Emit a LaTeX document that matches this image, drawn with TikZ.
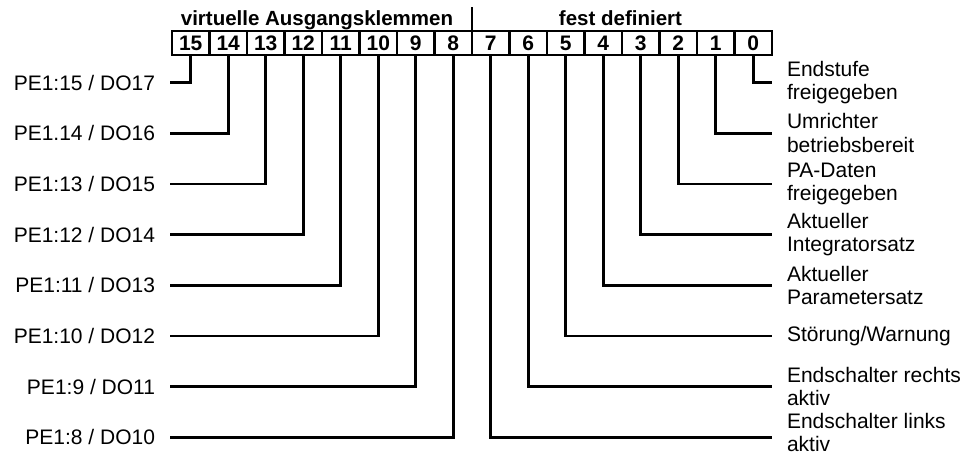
\documentclass[tikz,border=0pt]{standalone}
\usepackage{fontspec}
\setmainfont{Liberation Sans}
\begin{document}
\begin{tikzpicture}[x=1pt,y=-1pt,
  every node/.style={font=\fontsize{21}{23.5}\selectfont},
  bitbox/.style={draw, line width=2.6pt, minimum width=37.5pt, minimum height=24pt, inner sep=0pt, outer sep=0pt, font=\fontsize{21}{23.5}\selectfont\bfseries},
  lefttxt/.style={anchor=east, inner xsep=15pt, inner ysep=0pt, outer sep=0pt},
  righttxt/.style={anchor=west, inner xsep=15pt, inner ysep=0pt, outer sep=0pt, align=left},
  conn/.style={line width=2.6pt},
  head/.style={anchor=base, inner sep=0pt, font=\fontsize{20.5}{23.5}\selectfont\bfseries}]
\useasboundingbox (0,0) rectangle (972,459);
% boxes
\foreach \i in {0,...,15} {
  \node[bitbox] (b\i) at ({172+37.5*(15-\i)+18.75}, 43) {\i};
}
% header
\node[head] (hv) at (317,25) {virtuelle Ausgangsklemmen};
\node[head] (hf) at (620.5,25) {fest definiert};
\draw[conn] (b8.north east) -- ++(0,-24);
% left labels
\node[lefttxt] (l15) at (170,82.5) {PE1:15 / DO17};
\node[lefttxt] (l14) at (170,133.2) {PE1.14 / DO16};
\node[lefttxt] (l13) at (170,183.9) {PE1:13 / DO15};
\node[lefttxt] (l12) at (170,234.6) {PE1:12 / DO14};
\node[lefttxt] (l11) at (170,285.3) {PE1:11 / DO13};
\node[lefttxt] (l10) at (170,336) {PE1:10 / DO12};
\node[lefttxt] (l9) at (170,386.7) {PE1:9 / DO11};
\node[lefttxt] (l8) at (170,437.4) {PE1:8 / DO10};
% right labels
\node[righttxt] (r0) at (772,82.5) {Endstufe\\freigegeben};
\node[righttxt] (r1) at (772,133.2) {Umrichter\\betriebsbereit};
\node[righttxt] (r2) at (772,183.9) {PA-Daten\\freigegeben};
\node[righttxt] (r3) at (772,234.6) {Aktueller\\Integratorsatz};
\node[righttxt] (r4) at (772,285.3) {Aktueller\\Parametersatz};
\node[righttxt] (r5) at (772,336) {Störung/Warnung};
\node[righttxt] (r6) at (772,386.7) {Endschalter rechts\\aktiv};
\node[righttxt] (r7) at (772,432.5) {Endschalter links\\aktiv};
\coordinate (e7) at (772,437.4);
% connectors
\foreach \i in {8,...,15} {
  \draw[conn] (b\i.south) |- (l\i.east);
}
\foreach \i in {0,...,6} {
  \draw[conn] (b\i.south) |- (r\i.west);
}
\draw[conn] (b7.south) |- (e7);
\end{tikzpicture}
\end{document}
